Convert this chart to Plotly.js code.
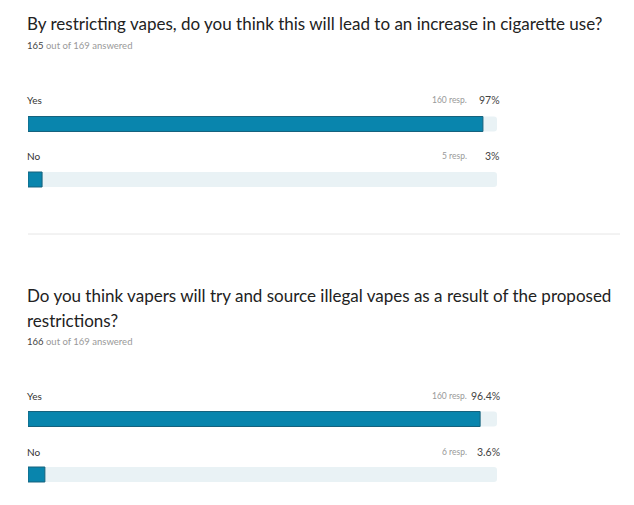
<!DOCTYPE html>
<html><head><meta charset="utf-8">
<script src="https://cdn.plot.ly/plotly-3.0.1.min.js"></script>
<style>html,body{margin:0;padding:0;background:#fff}#chart{width:634px;height:505px}</style>
</head><body><div id="chart"></div>
<script>
// Question 1
const q1TitleLines = ["By restricting vapes, do you think this will lead to an increase in cigarette use?"];
const q1Answered = 165, q1Total = 169;
const q1Categories = ["Yes", "No"];
const q1Percent = [97, 3];
const q1Resp = [160, 5];
const q1PercentLabels = ["97%", "3%"];
// Question 2
const q2TitleLines = ["Do you think vapers will try and source illegal vapes as a result of the proposed", "restrictions?"];
const q2Answered = 166, q2Total = 169;
const q2Categories = ["Yes", "No"];
const q2Percent = [96.4, 3.6];
const q2Resp = [160, 6];
const q2PercentLabels = ["96.4%", "3.6%"];

const W = 634, H = 505;
const x0 = 28, x1 = 497;
const barColor = "#0985ad", trackColor = "#e9f2f5";
const FONT = "Lato, 'Source Sans Pro', 'Noto Sans', sans-serif";

function py(p){ return 1 - p / H; }
const lx = (x0 - 3) / W;

const traces = [];
function addQ(cats, pct, xa, ya){
  traces.push({type:"bar", orientation:"h", y:cats, x:cats.map(()=>100), xaxis:xa, yaxis:ya,
    marker:{color:trackColor, cornerradius:3, line:{width:0}}, width:0.27, hoverinfo:"skip", showlegend:false});
  traces.push({type:"bar", orientation:"h", y:cats, x:pct, xaxis:xa, yaxis:ya,
    marker:{color:barColor, cornerradius:3, line:{width:1, color:"#16627d"}}, width:0.27, showlegend:false});
}
addQ(q1Categories, q1Percent, "x", "y");
addQ(q2Categories, q2Percent, "x2", "y2");

const annotations = [];
function addLabels(titleLines, titleY, answered, total, ansY, cats, resp, pctLabels, catYs){
  titleLines.forEach((t, k)=>{
    annotations.push({xref:"paper", yref:"paper", x:lx, y:py(titleY + 25*k), xanchor:"left", yanchor:"middle", align:"left",
      text:t, showarrow:false, font:{family:FONT, size:17, color:"#222"}});
  });
  annotations.push({xref:"paper", yref:"paper", x:lx, y:py(ansY), xanchor:"left", yanchor:"middle",
    text:"<span style='color:#444'>"+answered+"</span> out of "+total+" answered", showarrow:false, font:{family:FONT, size:9.5, color:"#999"}});
  cats.forEach((c,i)=>{
    annotations.push({xref:"paper", yref:"paper", x:lx, y:py(catYs[i]), xanchor:"left", yanchor:"middle",
      text:c, showarrow:false, font:{family:FONT, size:10, color:"#333"}});
    annotations.push({xref:"paper", yref:"paper", x:(466+3)/W, y:py(catYs[i]), xanchor:"right", yanchor:"middle",
      text:resp[i]+" resp.", showarrow:false, font:{family:FONT, size:8.5, color:"#999"}});
    annotations.push({xref:"paper", yref:"paper", x:(499+3)/W, y:py(catYs[i]), xanchor:"right", yanchor:"middle",
      text:pctLabels[i], showarrow:false, font:{family:FONT, size:10.5, color:"#444"}});
  });
}
addLabels(q1TitleLines, 23, q1Answered, q1Total, 46, q1Categories, q1Resp, q1PercentLabels, [100, 156]);
addLabels(q2TitleLines, 295, q2Answered, q2Total, 341, q2Categories, q2Resp, q2PercentLabels, [396, 452]);

const axX = {range:[0,100], showgrid:false, zeroline:false, showticklabels:false, fixedrange:true};
const axY = {autorange:"reversed", showgrid:false, zeroline:false, showticklabels:false, type:"category"};
const layout = {
  width:W, height:H, margin:{l:0,r:0,t:0,b:0}, paper_bgcolor:"#fff", plot_bgcolor:"rgba(0,0,0,0)",
  barmode:"overlay", showlegend:false,
  xaxis:Object.assign({domain:[x0/W, x1/W], anchor:"y"}, axX),
  yaxis:Object.assign({domain:[py(207.25), py(96.25)], anchor:"x"}, axY),
  xaxis2:Object.assign({domain:[x0/W, x1/W], anchor:"y2"}, axX),
  yaxis2:Object.assign({domain:[py(502.25), py(391.25)], anchor:"x2"}, axY),
  annotations:annotations,
  shapes:[{type:"line", xref:"paper", yref:"paper", x0:x0/W, x1:620/W, y0:py(234), y1:py(234), line:{color:"#e6e6e6", width:1}}]
};
Plotly.newPlot("chart", traces, layout, {displayModeBar:false, staticPlot:true});
</script></body></html>
